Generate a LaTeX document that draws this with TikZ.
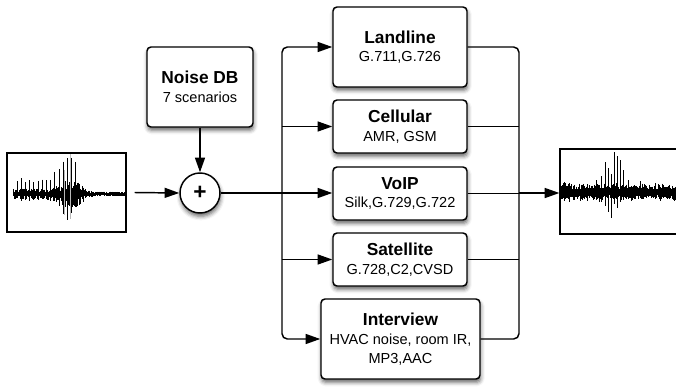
\documentclass[tikz,border=0pt]{standalone}
\usepackage{fontspec}
\setmainfont{Liberation Sans}
\usetikzlibrary{arrows.meta,shadows.blur,calc}
\newcommand\ttl[1]{{\fontsize{13}{14}\selectfont\bfseries #1}}
\begin{document}
\begin{tikzpicture}[x=0.75pt,y=-0.75pt,
  shad/.style={blur shadow={shadow xshift=0.5pt,shadow yshift=-2.5pt,shadow blur radius=3pt,shadow opacity=60}},
  box/.style={draw,line width=1.1pt,rounded corners=3pt,fill=white,align=center,inner sep=0pt,shad,
    font=\fontsize{10.9}{14}\selectfont},
  wbox/.style={draw,line width=0.9pt,inner sep=0pt},
  arr/.style={line width=1.1pt,-{Triangle[length=11pt,width=7.5pt]}},
  ln/.style={line width=1.1pt},
  wave/.style={line width=0.45pt}]
\useasboundingbox (0,0) rectangle (676,387);
\clip (0,0) rectangle (676,387);

% boxes
\node[box,minimum width=79.5pt,minimum height=60pt] (noise) at (200,87) {\ttl{Noise DB}\\7 scenarios};
\node[circle,draw,line width=1.1pt,fill=white,minimum size=30pt,inner sep=0pt,shad] (plus) at (200,193) {\fontsize{17}{17}\selectfont\bfseries +};
\node[box,minimum width=100.5pt,minimum height=60pt] (land) at (400,47) {\ttl{Landline}\\G.711,G.726};
\node[box,minimum width=100.5pt,minimum height=39.75pt] (cell) at (400,126.5) {\ttl{Cellular}\\AMR, GSM};
\node[box,minimum width=100.5pt,minimum height=39.75pt] (voip) at (400,193.5) {\ttl{VoIP}\\Silk,G.729,G.722};
\node[box,minimum width=100.5pt,minimum height=39.75pt] (sat) at (400,259.5) {\ttl{Satellite}\\G.728,C2,CVSD};
\node[box,minimum width=119.25pt,minimum height=60pt] (inter) at (400.5,339) {\ttl{Interview}\\HVAC noise, room IR,\\MP3,AAC};

% waveform frames
\node[wbox,minimum width=89.25pt,minimum height=59.25pt] (wavL) at (66.5,192.5) {};
\node[wbox,minimum width=97.5pt,minimum height=63.75pt] (wavR) at (625,191.5) {};

% left waveform
\pgfmathsetseed{7}
\draw[wave] (13,194) -- (126,194);
\foreach \i in {0,...,186}{
  \pgfmathsetmacro{\wx}{13.5+\i*0.6}
  \pgfmathsetmacro{\wenv}{2.5+9*exp(-((\wx-70)/13)^2)+(\wx<84 ? 3 : 0)}
  \pgfmathsetmacro{\wup}{\wenv*(0.3+0.7*rnd)}
  \pgfmathsetmacro{\wdn}{\wenv*(0.3+0.7*rnd)}
  \draw[wave] (\wx,194-\wup) -- (\wx,194+\wdn);
}
\foreach \k in {0,...,14}{
  \pgfmathsetmacro{\wsx}{17+4.2*\k}
  \pgfmathsetmacro{\wsu}{11+25*exp(-((\wsx-70)/13)^2)+5*rnd}
  \pgfmathsetmacro{\wsd}{4+22*exp(-((\wsx-67)/7)^2)+3*rnd}
  \draw[line width=0.6pt] (\wsx,194-\wsu) -- (\wsx,194+\wsd);
}
\draw[gray!55,line width=0.8pt] (70.5,154) -- (70.5,219);
\draw[gray!55,line width=0.8pt] (64.5,170) -- (64.5,215);

% right waveform
\pgfmathsetseed{3}
\foreach \i in {0,...,232}{
  \pgfmathsetmacro{\wx}{560.5+\i*0.5}
  \pgfmathsetmacro{\wenv}{5+5*rnd}
  \pgfmathsetmacro{\wup}{\wenv*(0.3+0.7*rnd)}
  \pgfmathsetmacro{\wdn}{\wenv*(0.3+0.7*rnd)}
  \draw[wave] (\wx,192-\wup) -- (\wx,192+\wdn);
}
\foreach \a/\b/\c in {596/12/8,601/16/10,605/30/14,608/24/20,611/18/26,614/40/12,617/36/16,620/32/10,623/22/8,628/12/6,640/11/6,655/9/7}{
  \draw[line width=0.6pt] (\a,192-\b) -- (\a,192+\c);
}

% connectors
\coordinate (bl) at (282,193);
\coordinate (br) at (519,193);
\draw[arr] ([xshift=6pt]wavL.east) -- (plus.west);
\draw[arr] (noise.south) -- (plus.north);
\draw[arr] (plus.east) -- (plus.east -| voip.west);
\draw[arr,rounded corners=4pt] (bl) |- (land.west);
\draw[arr,rounded corners=4pt] (bl) |- (inter.west);
\draw[arr] (bl |- cell.west) -- (cell.west);
\draw[arr] (bl |- sat.west) -- (sat.west);
\draw[ln,rounded corners=4pt] (land.east) -| (br);
\draw[ln,rounded corners=4pt] (inter.east) -| (br);
\draw[ln] (cell.east) -- (cell.east -| br);
\draw[ln] (sat.east) -- (sat.east -| br);
\draw[ln] (voip.east) -- (voip.east -| br);
\draw[arr] (br) -- (br -| wavR.west);
\end{tikzpicture}
\end{document}
